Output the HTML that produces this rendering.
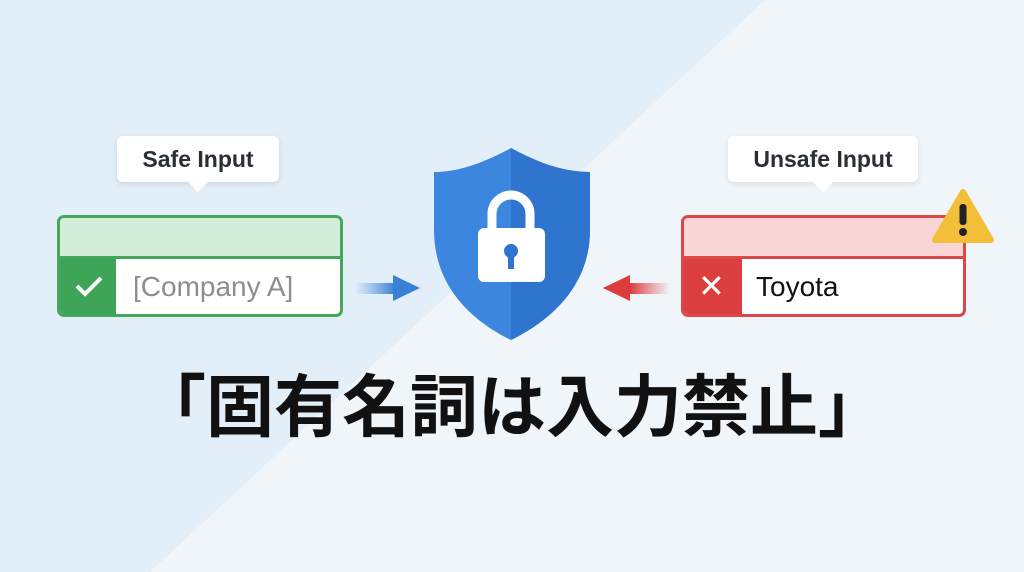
<!DOCTYPE html>
<html><head><meta charset="utf-8"><style>
body{margin:0;width:1024px;height:572px;overflow:hidden;font-family:"Liberation Sans","Noto Sans CJK JP",sans-serif;}
.bg{position:absolute;inset:0;background:#f0f5fa}
.tip{position:absolute;background:#fff;border-radius:6px;box-shadow:0 2px 6px rgba(0,0,0,.1);font-weight:bold;font-size:23px;color:#2a2f36;text-align:center;line-height:46px}
.tip:after{content:"";position:absolute;left:50%;bottom:-10px;margin-left:-10px;border:10px solid transparent;border-bottom:0;border-top-color:#fff}
.box{position:absolute;border-radius:7px;overflow:hidden;background:#fff}
</style></head><body>
<div class="bg"></div>
<svg style="position:absolute;left:0;top:0" width="1024" height="572">
<defs>
<linearGradient id="ga" x1="0" x2="1"><stop offset="0" stop-color="#4a90e2" stop-opacity="0"/><stop offset="1" stop-color="#3a80d8"/></linearGradient>
<linearGradient id="ra" x1="1" x2="0"><stop offset="0" stop-color="#e05050" stop-opacity="0"/><stop offset="1" stop-color="#dd3c3c"/></linearGradient>
</defs>
<polygon points="0,0 765,0 150,572 0,572" fill="#e2eef8"/>
<rect x="355" y="283" width="40" height="11" fill="url(#ga)"/>
<polygon points="393,275 420,288 393,301" fill="#3a80d8"/>
<rect x="630" y="283" width="40" height="11" fill="url(#ra)"/>
<polygon points="630,275 603,288 630,301" fill="#dd3c3c"/>
<path d="M511,148 C480,165 455,172 434,172 L434,230 C434,285 470,320 511,340 C552,320 590,285 590,230 L590,172 C567,172 542,165 511,148Z" fill="#3d86e0"/>
<path d="M511,148 C542,165 567,172 590,172 L590,230 C590,285 552,320 511,340Z" fill="#2f74cf"/>
<path d="M492,232 L492,214 A19,19 0 0 1 530,214 L530,232" fill="none" stroke="#fff" stroke-width="9"/>
<rect x="478" y="228" width="67" height="54" rx="6" fill="#fff"/>
<circle cx="511" cy="251" r="7" fill="#2f74cf"/><rect x="508" y="252" width="6" height="17" fill="#2f74cf"/>
</svg>
<div class="tip" style="left:117px;top:136px;width:162px;height:46px">Safe Input</div>
<div class="tip" style="left:728px;top:136px;width:190px;height:46px">Unsafe Input</div>
<div class="box" style="left:57px;top:215px;width:280px;height:96px;border:3px solid #43a85c">
<div style="height:38px;background:#d3ecd8;border-bottom:3px solid #43a85c"></div>
<div style="position:absolute;left:0;top:41px;width:56px;height:55px;background:#3ea558"></div>
<svg style="position:absolute;left:14px;top:56px" width="30" height="24"><path d="M3,12 L11,20 L27,4" fill="none" stroke="#fff" stroke-width="4"/></svg>
<div style="position:absolute;left:73px;top:41px;line-height:55px;font-size:28px;color:#8a8e94">[Company A]</div>
</div>
<div class="box" style="left:681px;top:215px;width:279px;height:96px;border:3px solid #dc4848">
<div style="height:38px;background:#f9d5d5;border-bottom:3px solid #dc4848"></div>
<div style="position:absolute;left:0;top:41px;width:58px;height:55px;background:#dc3f3f"></div>
<div style="position:absolute;left:14px;top:41px;line-height:55px;font-size:32px;color:#fff">✕</div>
<div style="position:absolute;left:72px;top:41px;line-height:55px;font-size:28px;color:#111">Toyota</div>
</div>
<svg style="position:absolute;left:0;top:0" width="1024" height="572">
<path d="M963,192 L991,240 L935,240Z" fill="#f3bf38" stroke="#f3bf38" stroke-width="6" stroke-linejoin="round"/>
<rect x="959.5" y="204" width="7" height="21" rx="3" fill="#222"/><circle cx="963" cy="232" r="4" fill="#222"/>
</svg>
<div style="position:absolute;left:112px;top:360px;width:800px;text-align:center;font-size:68px;font-weight:bold;color:#111;line-height:84px;font-family:'Noto Sans CJK JP',sans-serif">「固有名詞は入力禁止」</div>
</body></html>
